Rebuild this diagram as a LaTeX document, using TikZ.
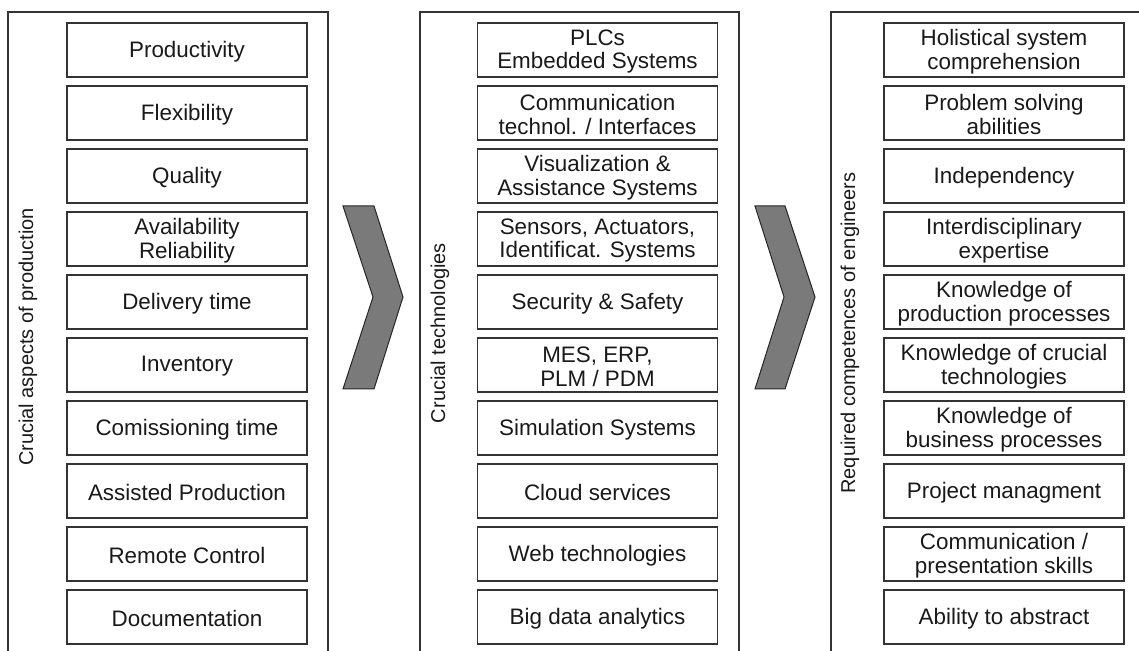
\documentclass[tikz,border=0pt]{standalone}
\usepackage{fontspec}
\setmainfont{Liberation Sans}
\begin{document}
\begin{tikzpicture}[x=0.5pt,y=-0.5pt,
  framepath/.style={draw=black!80, line width=0.85pt},
  itembox/.style={draw=black!80, line width=0.85pt, minimum width=120pt,
    minimum height=27pt, inner sep=0pt},
  itemtext/.style={inner sep=0pt, align=center, yshift=-0.8pt,
    font=\fontsize{11.2}{11.8}\selectfont, text=black!90},
  sidelabel/.style={rotate=90, inner sep=0pt, font=\fontsize{10}{12}\selectfont, text=black!90},
  chevron/.style={draw=black!85, fill=black!52, line width=0.5pt, line join=miter}]
\useasboundingbox (0,0) rectangle (1139,651);
\clip (0,0) rectangle (1139,651);

% column frames (open at the bottom)
\draw[framepath] (8,660) -- (8,12) -- (328,12) -- (328,660);
\draw[framepath] (420,660) -- (420,12) -- (739,12) -- (739,660);
\draw[framepath] (831,660) -- (831,12) -- (1150,12);

% column titles
\node[sidelabel] (tA) at (28,337) {Crucial aspects of production};
\node[sidelabel] (tB) at (440,333) {Crucial technologies};
\node[sidelabel] (tC) at (850,333) {Required competences of engineers};

% chevrons between the columns
\draw[chevron] (343,206) -- (374,206) -- (403,297) -- (374,389) -- (343,389) -- (373,297) -- cycle;
\draw[chevron] (755,206) -- (785,206) -- (815,297) -- (785,389) -- (755,389) -- (784,297) -- cycle;

% left column: aspects of production
\foreach \t [count=\i from 0] in {Productivity, Flexibility, Quality, {Availability\\Reliability},
  Delivery time, Inventory, Comissioning time, Assisted Production, Remote Control, Documentation}
{
  \node[itembox] (a\i) at (187,{50+63*\i}) {};
  \node[itemtext] (a\i t) at (a\i.center) {\t};
}

% middle column: technologies
\foreach \t [count=\i from 0] in {{PLCs\\Embedded Systems}, {Communication\\technol. / Interfaces},
  {Visualization \&\\Assistance Systems}, {Sensors, Actuators,\\Identificat. Systems},
  Security \& Safety, {MES, ERP,\\PLM / PDM}, Simulation Systems, Cloud services,
  Web technologies, Big data analytics}
{
  \node[itembox] (b\i) at (597.5,{50+63*\i}) {};
  \node[itemtext] (b\i t) at (b\i.center) {\t};
}

% right column: competences
\foreach \t [count=\i from 0] in {{Holistical system\\comprehension}, {Problem solving\\abilities},
  Independency, {Interdisciplinary\\expertise}, {Knowledge of\\production processes},
  {Knowledge of crucial\\technologies}, {Knowledge of\\business processes},
  Project managment, {Communication /\\presentation skills}, Ability to abstract}
{
  \node[itembox] (c\i) at (1004,{50+63*\i}) {};
  \node[itemtext] (c\i t) at (c\i.center) {\t};
}
\end{tikzpicture}
\end{document}
